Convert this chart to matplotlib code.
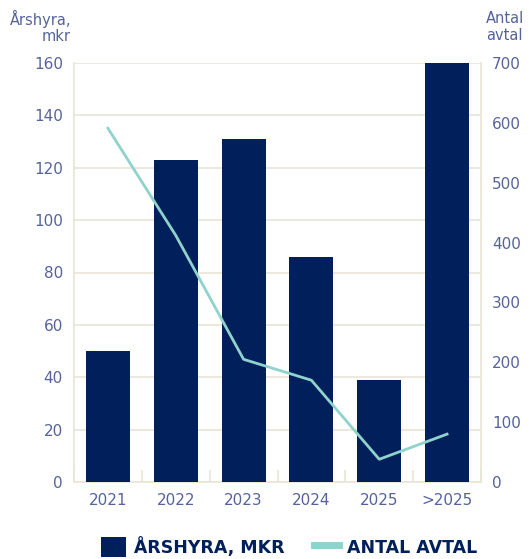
import matplotlib
matplotlib.use("Agg")
import matplotlib.pyplot as plt
from matplotlib.patches import Patch
from matplotlib.lines import Line2D
import numpy as np

categories = ["2021", "2022", "2023", "2024", "2025", ">2025"]
arshyra = [50, 123, 131, 86, 39, 160]
antal = [591, 412, 205, 170, 38, 80]

navy = "#001f5b"
teal = "#8fd3cc"
grid = "#e9e5d6"
txt = "#55639a"

plt.rcParams['font.family'] = ['DejaVu Sans']
fig = plt.figure(figsize=(5.30, 5.59), dpi=100)
ax = fig.add_axes([74/530, 1-482/559, (481-74)/530, (482-63)/559])
x = np.arange(len(categories))
ax.bar(x, arshyra, width=0.65, color=navy, zorder=3)
ax.set_xlim(-0.5, 5.5)
ax.set_ylim(0, 160)
ax.set_yticks(np.arange(0, 161, 20))
ax.yaxis.grid(True, color=grid, linewidth=1.2, zorder=0)
ax.set_xticks(x)
ax.set_xticklabels(categories)
ax.set_xticks(np.arange(-0.5, 6, 1), minor=True)
ax.tick_params(axis='x', which='major', length=0, pad=8, labelcolor=txt, labelsize=11)
ax.tick_params(axis='x', which='minor', length=9, direction='in', color=grid, width=1.2)
ax.tick_params(axis='y', length=0, pad=8, labelcolor=txt, labelsize=11)
for s in ['top']:
    ax.spines[s].set_visible(False)
for s in ['left', 'right', 'bottom']:
    ax.spines[s].set_color(grid)
    ax.spines[s].set_linewidth(1.2)

ax2 = ax.twinx()
ax2.plot(x, antal, color=teal, linewidth=2, zorder=4)
ax2.set_ylim(0, 700)
ax2.set_yticks(np.arange(0, 701, 100))
ax2.tick_params(axis='y', length=0, pad=8, labelcolor=txt, labelsize=11)
for s in ['top', 'left', 'right', 'bottom']:
    ax2.spines[s].set_visible(False)

fig.text(71/530, 1-27/559, "Årshyra,\nmkr", ha='right', va='center', color=txt, fontsize=10.5, linespacing=1.1)
fig.text(486/530, 1-27/559, "Antal\navtal", ha='left', va='center', color=txt, fontsize=10.5, linespacing=1.1)

handles = [Patch(facecolor=navy, edgecolor='none'),
           Line2D([0], [0], color=teal, linewidth=5)]
leg = fig.legend(handles, ["ÅRSHYRA, MKR", "ANTAL AVTAL"], loc='center',
                 bbox_to_anchor=(0.545, 1-547/559), ncol=2, frameon=False,
                 handlelength=1.45, handleheight=1.45, columnspacing=1.7,
                 handletextpad=0.45,
                 prop={'weight': 'bold', 'size': 12.5})
for t in leg.get_texts():
    t.set_color(navy)
fig.savefig("out.png", dpi=100)
